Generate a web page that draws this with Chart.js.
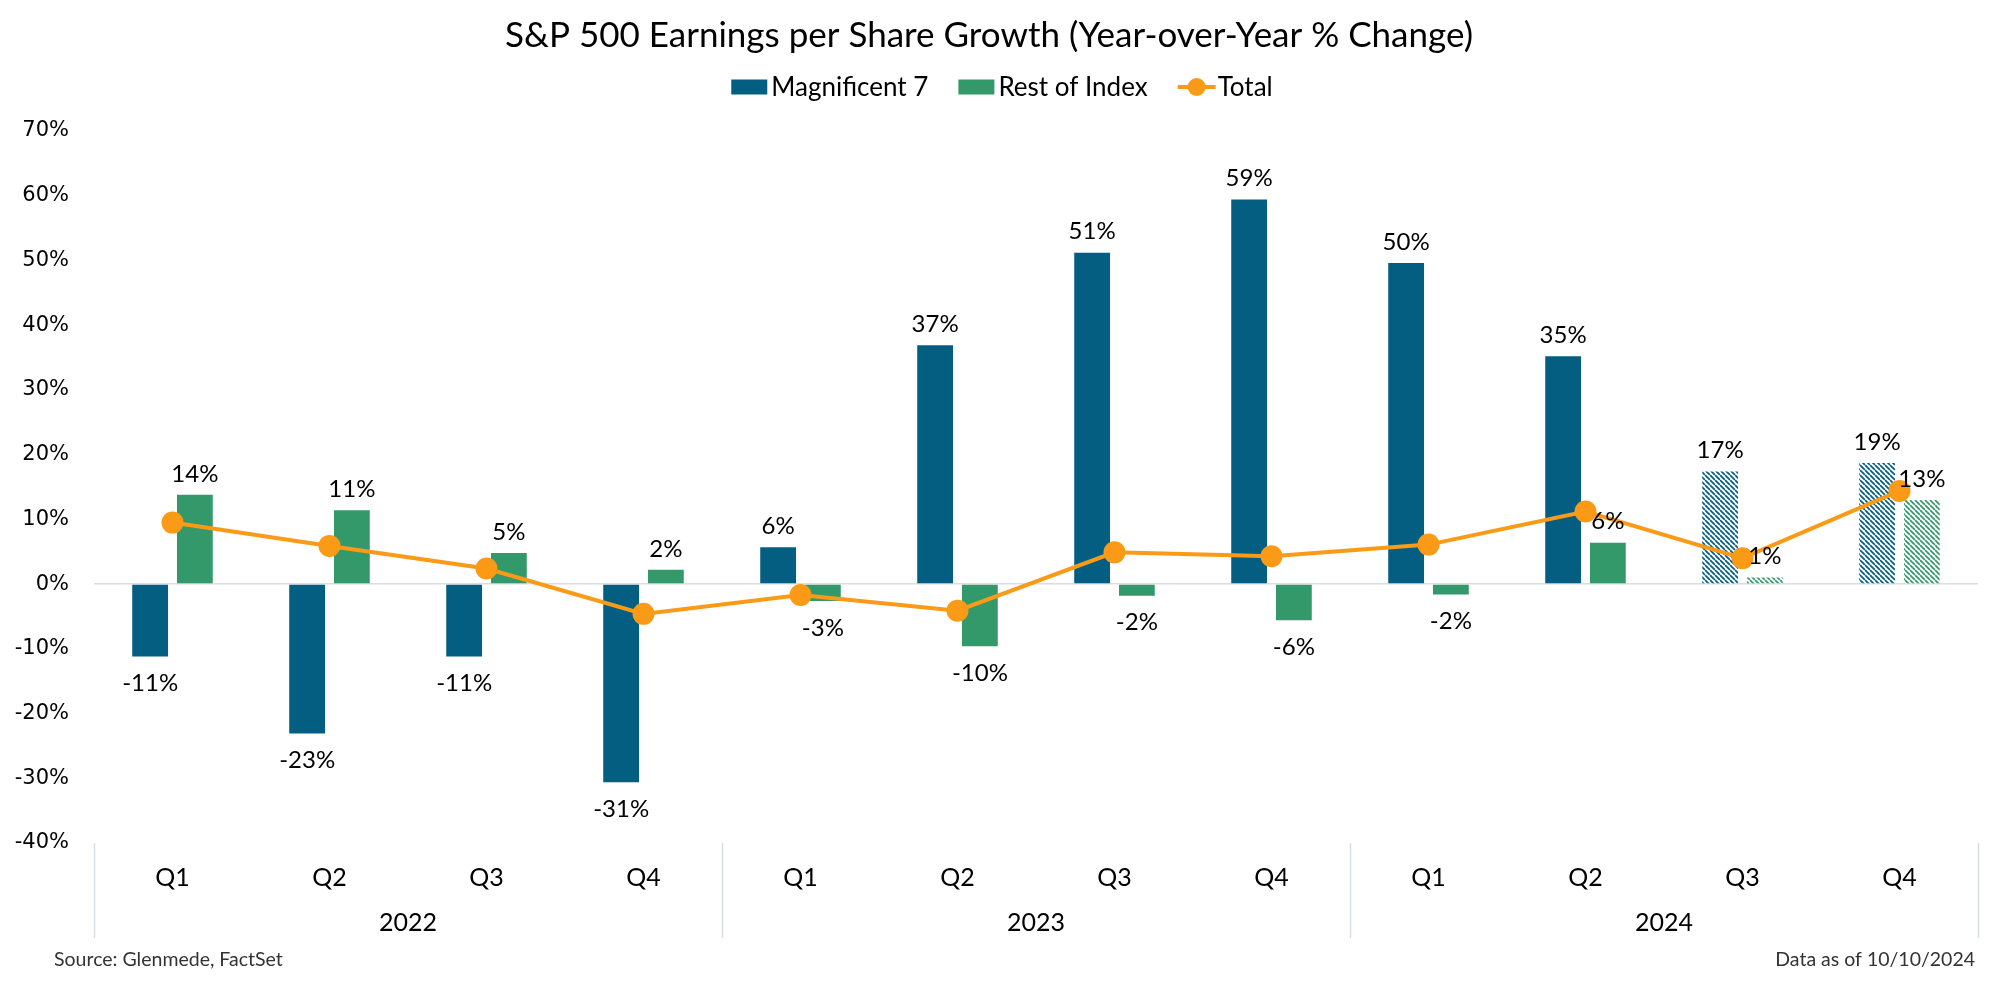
<!DOCTYPE html>
<html><head><meta charset="utf-8">
<script src="https://cdn.jsdelivr.net/npm/chart.js@4.4.1/dist/chart.umd.min.js"></script>
<style>html,body{margin:0;padding:0;background:#fff;overflow:hidden}#wrap{width:2000px;height:982px;position:relative}</style>
</head><body><div id="wrap"><canvas id="c" width="2000" height="982"></canvas></div>
<script>
// ---- data ----
const quarters = ['Q1','Q2','Q3','Q4','Q1','Q2','Q3','Q4','Q1','Q2','Q3','Q4'];
const years = ['2022','2023','2024'];
const quartersPerYear = 4;
const mag7 = [-11.2, -23.1, -11.2, -30.6, 5.7, 36.9, 51.2, 59.4, 49.6, 35.2, 17.4, 18.7];
const restOfIndex = [13.8, 11.4, 4.8, 2.2, -2.6, -9.6, -1.8, -5.6, -1.6, 6.4, 1.0, 13.0];
const total = [9.5, 5.9, 2.4, -4.6, -1.7, -4.1, 4.9, 4.3, 6.1, 11.2, 4.0, 14.4];
const isEstimate = [false,false,false,false,false,false,false,false,false,false,true,true];
const seriesNames = ['Magnificent 7','Rest of Index','Total'];
const titleText = 'S&P 500 Earnings per Share Growth (Year-over-Year % Change)';
const sourceText = 'Source: Glenmede, FactSet';
const dateText = 'Data as of 10/10/2024';
const yMin = -40, yMax = 70, yStep = 10;

// ---- styles ----
const BLUE = '#035E82', GREEN = '#33996A', ORANGE = '#FB9A16', DIV = '#D9DEE5';
function hatch(color){
  const s = 5, cv = document.createElement('canvas');
  cv.width = s; cv.height = s;
  const g = cv.getContext('2d');
  g.fillStyle = '#fff'; g.fillRect(0,0,s,s);
  g.strokeStyle = color; g.lineWidth = 1.7;
  for (const c of [-s,0,s]) { g.beginPath(); g.moveTo(0,c); g.lineTo(s,s+c); g.stroke(); }
  return g.createPattern(cv,'repeat');
}
const blueFill = isEstimate.map(e => e ? hatch(BLUE) : BLUE);
const greenFill = isEstimate.map(e => e ? hatch(GREEN) : GREEN);

const barLabels = {
  id:'barLabels',
  afterDatasetsDraw(chart){
    const ctx = chart.ctx;
    ctx.save();
    ctx.font = '24px Lato'; ctx.fillStyle = '#000'; ctx.textAlign = 'center'; ctx.textBaseline = 'middle';
    chart.data.datasets.forEach((ds,i) => {
      if (ds.type !== 'bar') return;
      const meta = chart.getDatasetMeta(i);
      meta.data.forEach((el,j) => {
        const v = ds.data[j];
        const y = v >= 0 ? el.y - 21 : el.y + 27;
        ctx.fillText(Math.round(v) + '%', el.x, y);
      });
    });
    ctx.restore();
  }
};

const decor = {
  id:'decor',
  afterDraw(chart){
    const ctx = chart.ctx, ca = chart.chartArea, x = chart.scales.x;
    ctx.save();
    // group dividers
    const n = quarters.length, w = (ca.right - ca.left)/n;
    ctx.strokeStyle = DIV; ctx.lineWidth = 1.5;
    for (let k = 0; k <= years.length; k++) {
      const xx = Math.round(ca.left + k*quartersPerYear*w) + 0.5;
      ctx.beginPath(); ctx.moveTo(xx, ca.bottom); ctx.lineTo(xx, 938); ctx.stroke();
    }
    // year labels
    ctx.font = '25px Lato'; ctx.fillStyle = '#000'; ctx.textAlign = 'center'; ctx.textBaseline = 'middle';
    years.forEach((yr,k) => {
      const a = x.getPixelForValue(k*quartersPerYear), b = x.getPixelForValue(k*quartersPerYear + quartersPerYear - 1);
      ctx.fillText(yr, (a+b)/2, 923);
    });
    // footer
    ctx.font = '19.5px Lato'; ctx.fillStyle = '#333';
    ctx.textAlign = 'left'; ctx.fillText(sourceText, 54, 960);
    ctx.textAlign = 'right'; ctx.fillText(dateText, 1975, 960);
    // legend
    ctx.font = '26px Lato'; ctx.textBaseline = 'middle'; ctx.textAlign = 'left';
    const ly = 87, boxW = 36, boxH = 15, lineW = 38, gapTxt = 4, gapItem = 30;
    const items = chart.data.datasets.map(ds => ({label: ds.label, type: ds.type}));
    const widths = items.map(it => (it.type === 'bar' ? boxW + gapTxt : lineW + 2) + ctx.measureText(it.label).width);
    const totalW = widths.reduce((a,b)=>a+b,0) + gapItem*(items.length-1);
    let cx = 1002 - totalW/2;
    items.forEach((it,k) => {
      if (it.type === 'bar') {
        ctx.fillStyle = k === 0 ? BLUE : GREEN;
        ctx.fillRect(cx, ly - boxH/2, boxW, boxH);
        cx += boxW + gapTxt;
      } else {
        ctx.strokeStyle = ORANGE; ctx.lineWidth = 4;
        ctx.beginPath(); ctx.moveTo(cx, ly); ctx.lineTo(cx + lineW, ly); ctx.stroke();
        ctx.fillStyle = ORANGE; ctx.beginPath(); ctx.arc(cx + lineW/2, ly, 9, 0, Math.PI*2); ctx.fill();
        cx += lineW + 2;
      }
      ctx.fillStyle = '#000';
      ctx.fillText(it.label, cx, ly + 1);
      cx += ctx.measureText(it.label).width + gapItem;
    });
    ctx.restore();
  }
};

new Chart(document.getElementById('c'), {
  data: {
    labels: quarters,
    datasets: [
      {type:'bar', label: seriesNames[0], data: mag7, backgroundColor: blueFill, order: 1, categoryPercentage: 0.57, barPercentage: 0.8},
      {type:'bar', label: seriesNames[1], data: restOfIndex, backgroundColor: greenFill, order: 1, categoryPercentage: 0.57, barPercentage: 0.8},
      {type:'line', label: seriesNames[2], data: total, borderColor: ORANGE, backgroundColor: ORANGE, borderWidth: 4,
       pointRadius: 11, pointHoverRadius: 11, pointBorderWidth: 0, pointBackgroundColor: ORANGE, order: 0, tension: 0}
    ]
  },
  options: {
    responsive: false, animation: false, devicePixelRatio: 1,
    layout: {padding: {left: 0, right: 22, top: 0, bottom: 0}},
    plugins: {
      legend: {display: false},
      tooltip: {enabled: false},
      title: {display: true, text: titleText, color: '#000', font: {family: 'Lato', size: 35, weight: 'normal'},
              padding: {top: 15, bottom: 74}}
    },
    scales: {
      x: {
        grid: {display: false, drawTicks: false}, border: {display: false},
        ticks: {font: {family: 'Lato', size: 25}, color: '#000', padding: 20, maxRotation: 0, autoSkip: false},
        afterFit(s){ s.height = 139; }
      },
      y: {
        min: yMin, max: yMax,
        grid: {drawTicks: false, lineWidth: 1.5, color: c => c.tick && c.tick.value === 0 ? DIV : 'rgba(0,0,0,0)'},
        border: {display: false},
        ticks: {stepSize: yStep, font: {family: 'DejaVu Sans', size: 21}, color: '#000', padding: 25,
                callback: v => v + '%'},
        afterFit(s){ s.width = 94; }
      }
    }
  },
  plugins: [barLabels, decor]
});
</script></body></html>
